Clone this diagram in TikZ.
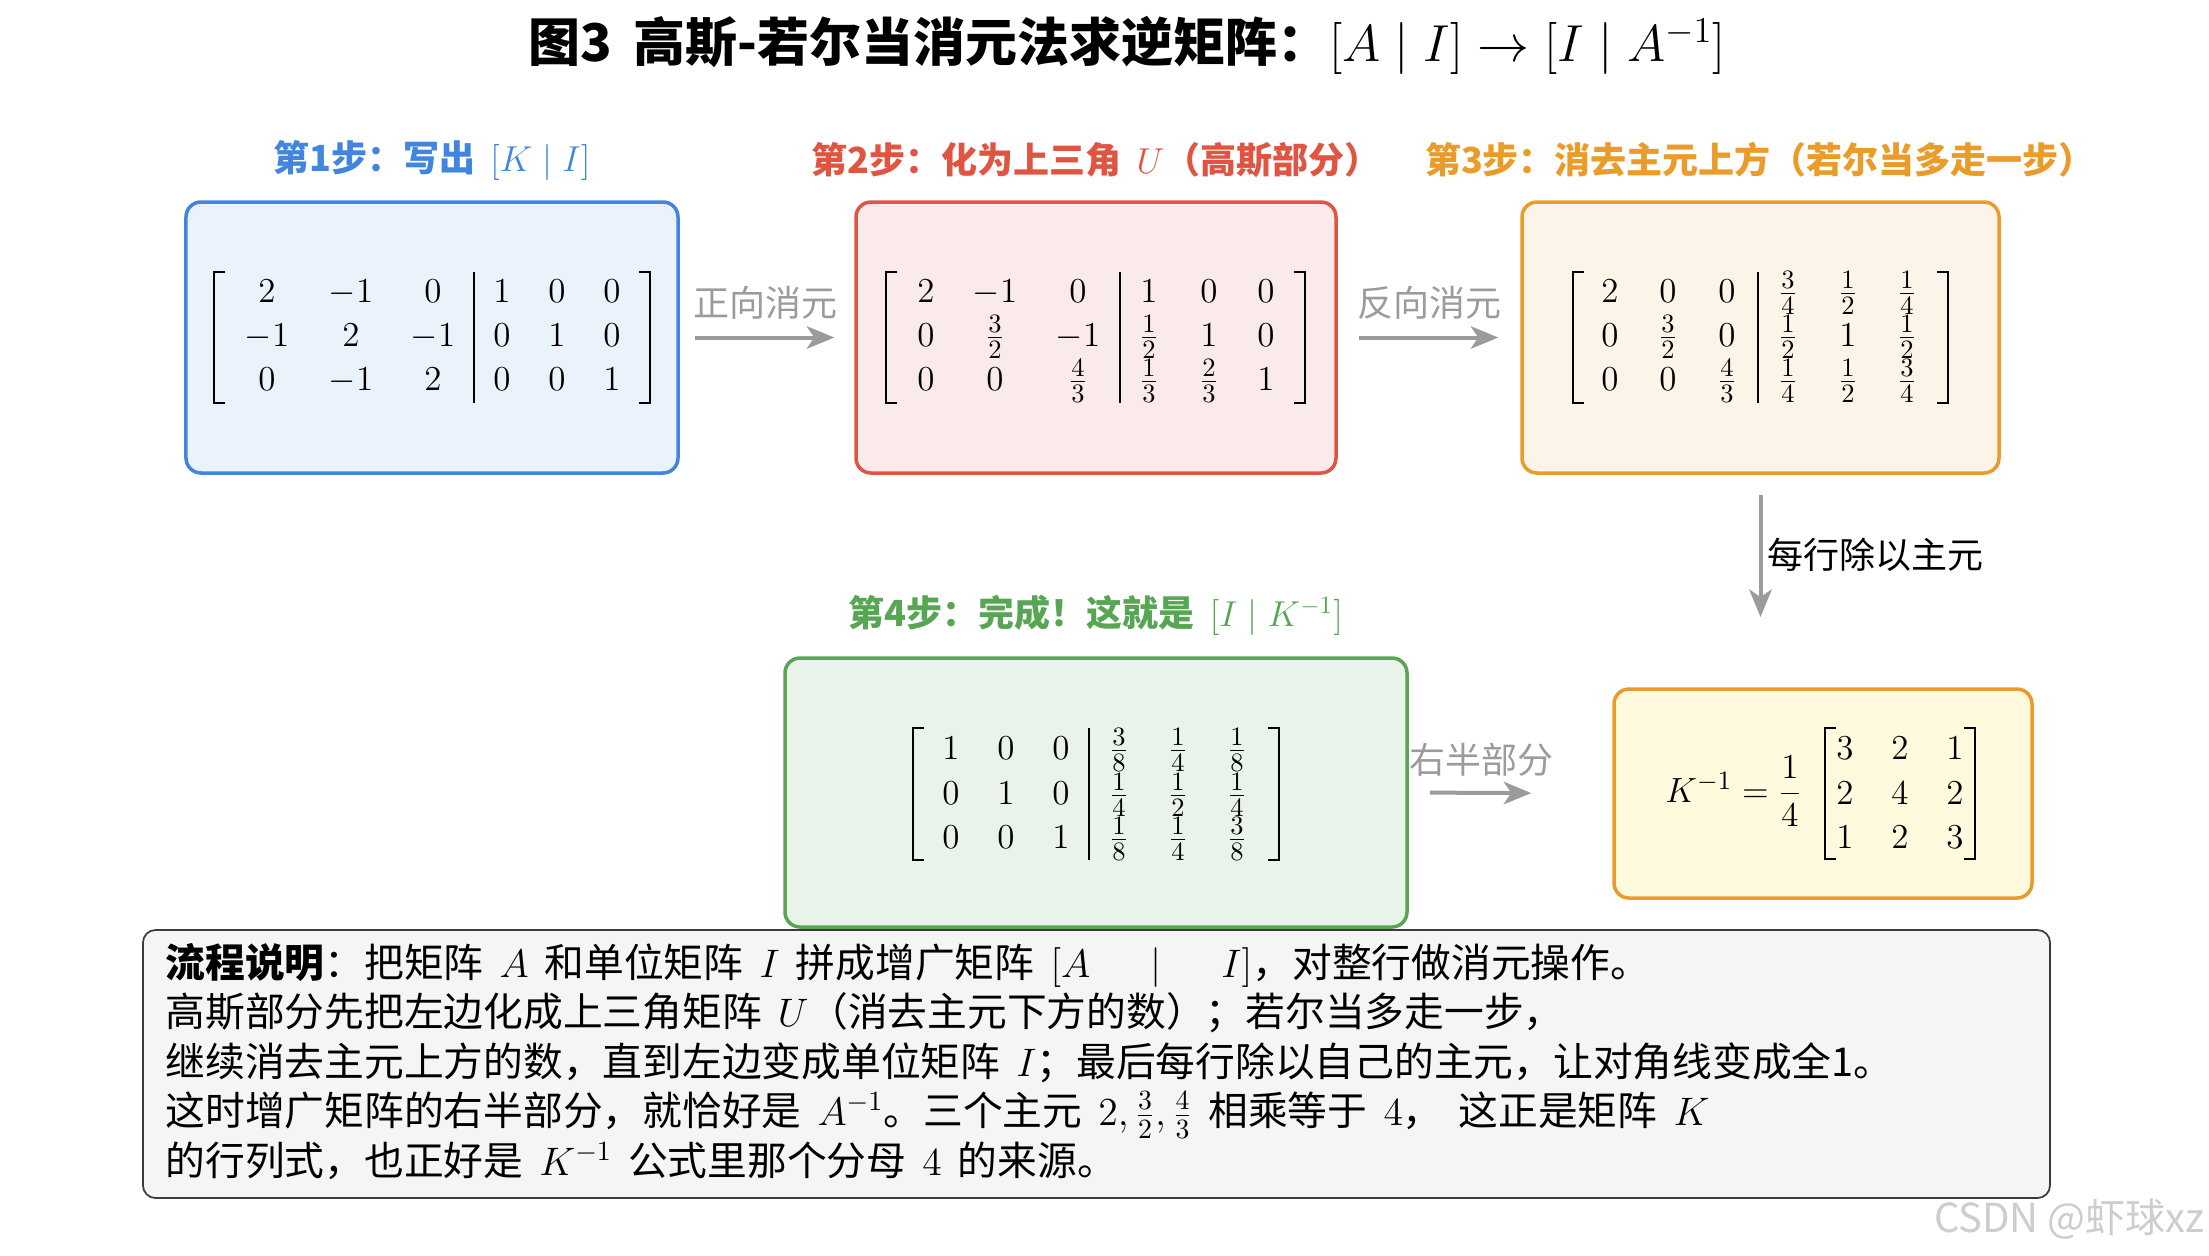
\RequirePackage{fix-cm}
\documentclass[tikz,border=0pt]{standalone}
\usepackage[no-math]{fontspec}
\setmainfont{Noto Sans CJK SC}[WordSpace=1.8]
\newfontfamily\wmfont{Noto Sans CJK SC}
\usetikzlibrary{arrows.meta}
\DeclareMathSizes{14}{14}{10.6}{8}
\definecolor{cblue}{RGB}{66,133,222}
\definecolor{fblue}{RGB}{234,242,252}
\definecolor{cred}{RGB}{224,84,66}
\definecolor{fred}{RGB}{251,234,234}
\definecolor{corange}{RGB}{234,156,42}
\definecolor{forange}{RGB}{252,244,232}
\definecolor{cgreen}{RGB}{88,165,84}
\definecolor{fgreen}{RGB}{233,243,233}
\definecolor{fyellow}{RGB}{255,249,222}
\definecolor{carrow}{RGB}{155,155,155}
\definecolor{fnote}{RGB}{245,245,245}
\definecolor{cnote}{RGB}{60,60,60}
\definecolor{cwm}{RGB}{205,205,205}
\newcommand\bracks[4]{%
  \draw[brk] (#1+11,#3) -- (#1,#3) -- (#1,#4) -- (#1+11,#4);
  \draw[brk] (#2-11,#3) -- (#2,#3) -- (#2,#4) -- (#2-11,#4);}
\begin{document}
\begin{tikzpicture}[x=0.4pt,y=-0.4pt,
  box/.style={draw, rounded corners=6pt, line width=1.4pt, inner sep=0pt},
  steplabel/.style={font=\fontsize{14.4}{17}\selectfont\bfseries, inner sep=0pt},
  cell/.style={anchor=base, inner sep=0pt, font=\fontsize{14}{17}\selectfont},
  brk/.style={line width=1.1pt, line join=miter},
  vbar/.style={line width=0.6pt},
  flow/.style={draw=carrow, line width=1.6pt, -{Stealth[length=11pt,width=9pt,inset=3pt]}},
  flowlabel/.style={text=carrow, font=\fontsize{14.4}{17}\selectfont, inner sep=0pt},
  note/.style={anchor=base west, inner sep=0pt, font=\fontsize{15.9}{19}\selectfont},
]
\useasboundingbox (0,0) rectangle (2209,1255);

% title
\node[font=\fontsize{20.8}{25}\selectfont\bfseries, inner sep=0pt] (title) at (1127,45)
  {图3 高斯-若尔当消元法求逆矩阵：$[A \mid I] \rightarrow [I \mid A^{-1}]$};

% boxes
\node[box, draw=cblue, fill=fblue, minimum width=196.8pt, minimum height=108.4pt] (b1) at (432,337.5) {};
\node[box, draw=cred, fill=fred, minimum width=192pt, minimum height=108.4pt] (b2) at (1096,337.5) {};
\node[box, draw=corange, fill=forange, minimum width=190.8pt, minimum height=108.4pt] (b3) at (1760.5,337.5) {};
\node[box, draw=cgreen, fill=fgreen, minimum width=248.8pt, minimum height=107.6pt] (b4) at (1096,792.5) {};
\node[box, draw=corange, fill=fyellow, minimum width=167.2pt, minimum height=83.6pt] (bk) at (1823,793.5) {};
\node[box, draw=cnote, fill=fnote, line width=0.7pt, rounded corners=5pt, minimum width=762.8pt, minimum height=107.2pt] (bn) at (1096.5,1064) {};

% step labels
\node[steplabel, text=cblue] (l1) at (432,160) {第1步：写出 $[K \mid I]$};
\node[steplabel, text=cred] (l2) at (1096,160) {第2步：化为上三角 $U$（高斯部分）};
\node[steplabel, text=corange] (l3) at (1760,160) {第3步：消去主元上方（若尔当多走一步）};
\node[steplabel, text=cgreen] (l4) at (1096,615) {第4步：完成！这就是 $[I \mid K^{-1}]$};

% matrix 1
\bracks{214}{650}{272}{403}
\draw[vbar] (474,272) -- (474,403);
\foreach \x/\e [count=\i] in {267/2,351/-1,433/0,502/1,557/0,612/0}
  \node[cell] (m1a\i) at (\x,302) {$\e$};
\foreach \x/\e [count=\i] in {267/-1,351/2,433/-1,502/0,557/1,612/0}
  \node[cell] (m1b\i) at (\x,346) {$\e$};
\foreach \x/\e [count=\i] in {267/0,351/-1,433/2,502/0,557/0,612/1}
  \node[cell] (m1c\i) at (\x,390) {$\e$};

% matrix 2
\bracks{886}{1305}{272}{403}
\draw[vbar] (1120,272) -- (1120,403);
\foreach \x/\e [count=\i] in {926/2,995/-1,1078/0,1149/1,1209/0,1266/0}
  \node[cell] (m2a\i) at (\x,302) {$\e$};
\foreach \x/\e [count=\i] in {926/0,995/{\frac{3}{2}},1078/-1,1149/{\frac{1}{2}},1209/1,1266/0}
  \node[cell] (m2b\i) at (\x,346) {$\e$};
\foreach \x/\e [count=\i] in {926/0,995/0,1078/{\frac{4}{3}},1149/{\frac{1}{3}},1209/{\frac{2}{3}},1266/1}
  \node[cell] (m2c\i) at (\x,390) {$\e$};

% matrix 3
\bracks{1573}{1948}{272}{403}
\draw[vbar] (1758,272) -- (1758,403);
\foreach \x/\e [count=\i] in {1610/2,1668/0,1727/0,1788/{\frac{3}{4}},1848/{\frac{1}{2}},1907/{\frac{1}{4}}}
  \node[cell] (m3a\i) at (\x,302) {$\e$};
\foreach \x/\e [count=\i] in {1610/0,1668/{\frac{3}{2}},1727/0,1788/{\frac{1}{2}},1848/1,1907/{\frac{1}{2}}}
  \node[cell] (m3b\i) at (\x,346) {$\e$};
\foreach \x/\e [count=\i] in {1610/0,1668/0,1727/{\frac{4}{3}},1788/{\frac{1}{4}},1848/{\frac{1}{2}},1907/{\frac{3}{4}}}
  \node[cell] (m3c\i) at (\x,390) {$\e$};

% matrix 4
\bracks{913}{1279}{728}{860}
\draw[vbar] (1089,728) -- (1089,860);
\foreach \x/\e [count=\i] in {951/1,1006/0,1061/0,1119/{\frac{3}{8}},1178/{\frac{1}{4}},1237/{\frac{1}{8}}}
  \node[cell] (m4a\i) at (\x,759) {$\e$};
\foreach \x/\e [count=\i] in {951/0,1006/1,1061/0,1119/{\frac{1}{4}},1178/{\frac{1}{2}},1237/{\frac{1}{4}}}
  \node[cell] (m4b\i) at (\x,804) {$\e$};
\foreach \x/\e [count=\i] in {951/0,1006/0,1061/1,1119/{\frac{1}{8}},1178/{\frac{1}{4}},1237/{\frac{3}{8}}}
  \node[cell] (m4c\i) at (\x,848) {$\e$};

% K inverse
\node[anchor=base east, inner sep=0pt, font=\fontsize{14}{17}\selectfont] (keq) at (1802,802)
  {$K^{-1} = \displaystyle\frac{1}{4}$};
\bracks{1825}{1975}{728}{859}
\foreach \x/\e [count=\i] in {1845/3,1900/2,1955/1}
  \node[cell] (mka\i) at (\x,759) {$\e$};
\foreach \x/\e [count=\i] in {1845/2,1900/4,1955/2}
  \node[cell] (mkb\i) at (\x,804) {$\e$};
\foreach \x/\e [count=\i] in {1845/1,1900/2,1955/3}
  \node[cell] (mkc\i) at (\x,848) {$\e$};

% arrows
\draw[flow, shorten <=6pt, shorten >=8pt] (b1.east) -- (b2.west);
\node[flowlabel] (al1) at (765,303) {正向消元};
\draw[flow, shorten <=8.4pt, shorten >=8.8pt] (b2.east) -- (b3.west);
\node[flowlabel] (al2) at (1429,303) {反向消元};
\coordinate (a3end) at (1760.5,617);
\draw[flow, shorten <=8pt] (b3.south) -- (a3end);
\node[anchor=west, inner sep=0pt, font=\fontsize{14.4}{17}\selectfont] (al3) at (1767,555) {每行除以主元};
\draw[flow, shorten <=8.4pt, shorten >=32.4pt] (b4.east) -- (bk.west);
\node[flowlabel] (al4) at (1481,760) {右半部分};

% note text
\node[note] (d1) at (165,977) {\textbf{流程说明}：把矩阵 $A$ 和单位矩阵 $I$ 拼成增广矩阵 $[A$\hspace{24pt}$|$\hspace{24pt}$I]$，对整行做消元操作。};
\node[note] (d2) at (165,1026) {高斯部分先把左边化成上三角矩阵 $U$（消去主元下方的数）；若尔当多走一步，};
\node[note] (d3) at (165,1076) {继续消去主元上方的数，直到左边变成单位矩阵 $I$；最后每行除以自己的主元，让对角线变成全1。};
\node[note] (d4) at (165,1125) {这时增广矩阵的右半部分，就恰好是 $A^{-1}$。三个主元 $2, \frac{3}{2}, \frac{4}{3}$ 相乘等于 $4$， 这正是矩阵 $K$};
\node[note] (d5) at (165,1175) {的行列式，也正好是 $K^{-1}$ 公式里那个分母 $4$ 的来源。};

% watermark
\node[anchor=east, text=cwm, font=\wmfont\fontsize{16}{19}\selectfont, inner sep=0pt] (wm) at (2205,1219) {CSDN @虾球xz};
\end{tikzpicture}
\end{document}
